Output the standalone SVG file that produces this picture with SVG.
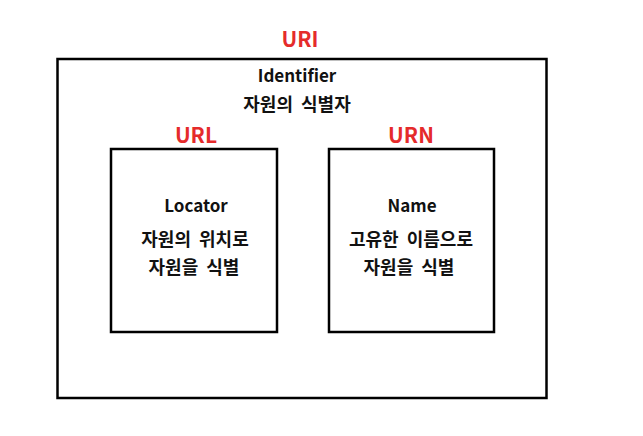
<svg xmlns="http://www.w3.org/2000/svg" width="643" height="436" viewBox="0 0 643 436">
<style>
.box{fill:none;stroke:#000;stroke-width:2.5}
.red{fill:#e52b2b;font-family:"Noto Sans CJK KR","Noto Sans",sans-serif;font-weight:bold;font-size:21px;text-anchor:middle}
.t{fill:#111;font-family:"Noto Sans CJK KR","Noto Sans",sans-serif;font-weight:bold;font-size:17px;text-anchor:middle}
.k{fill:#111;font-family:"Noto Sans CJK KR","Noto Sans",sans-serif;font-weight:bold;font-size:18px;word-spacing:4px;text-anchor:middle}
</style>
<rect width="643" height="436" fill="#fff"/>
<g id="uri">
<rect class="box" x="57.5" y="59" width="489" height="339"/>
<text class="red" x="300" y="47">URI</text>
<text class="t" x="297" y="82">Identifier</text>
<text class="k" x="297" y="111">자원의 식별자</text>
</g>
<g id="url">
<rect class="box" x="111" y="149" width="166" height="183"/>
<text class="red" x="196" y="143">URL</text>
<text class="t" x="196" y="212">Locator</text>
<text class="k" x="195" y="246">자원의 위치로</text>
<text class="k" x="194" y="274">자원을 식별</text>
</g>
<g id="urn">
<rect class="box" x="329" y="149" width="165" height="183"/>
<text class="red" x="411" y="143">URN</text>
<text class="t" x="412" y="212">Name</text>
<text class="k" x="411" y="246">고유한 이름으로</text>
<text class="k" x="409" y="274">자원을 식별</text>
</g>
<g id="connectors"></g>
</svg>
